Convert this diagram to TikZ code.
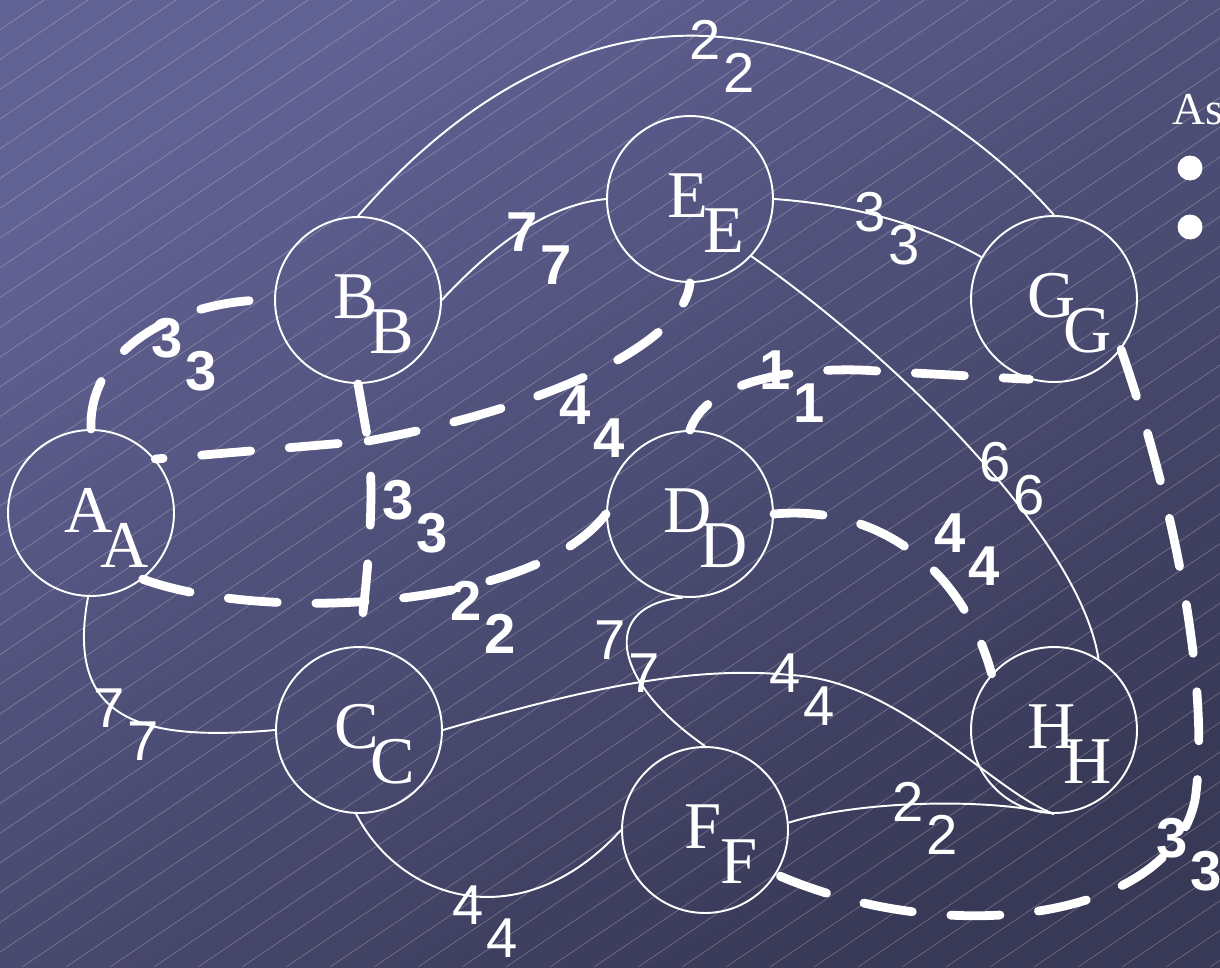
\documentclass[tikz,border=0pt]{standalone}
\usepackage{fontspec}
\setmainfont{Liberation Serif}
\newfontfamily\numfont{Liberation Sans}
\usetikzlibrary{calc}
\definecolor{slatetop}{RGB}{97,98,148}
\definecolor{slatebot}{RGB}{56,57,86}
\tikzset{
  vert/.style={draw=white, line width=1.1pt, circle, minimum size=3.32cm, inner sep=0pt},
  vlab/.style={text=white, inner sep=0pt, font=\fontsize{38}{40}\selectfont},
  wlab/.style={text=white, inner sep=0pt, font=\numfont\fontsize{32}{34}\selectfont},
  wbold/.style={wlab, font=\numfont\bfseries\fontsize{32}{34}\selectfont},
  link/.style={draw=white, line width=1.1pt},
  route/.style={draw=white, line width=5pt, line cap=round, dash pattern=on 28pt off 22pt},
}

\begin{document}
\begin{tikzpicture}[x=0.02cm, y=-0.02cm]
  \useasboundingbox (0,0) rectangle (1220,967);
  \clip (0,0) rectangle (1220,967);
  % background
  \shade[top color=slatetop, bottom color=slatebot, shading angle=30] (0,0) rectangle (1220,967);
  \foreach \k in {0,...,60}
    \draw[white, opacity=0.25, line width=0.4pt] ({\k*44-1430},967) -- ++(1430,-967);

  % vertices
  \foreach \n/\px/\py in {A/91/513, B/358/300, C/359/730, D/690/514,
                          E/690/199, F/705/830, G/1054/299, H/1054/730} {
    \node[vert] (\n) at (\px,\py) {};
    \node[vlab] (\n-a) at (\px-2,\py-3) {\n};
    \node[vlab] (\n-b) at (\px+34,\py+32) {\n};
  }
  \coordinate (J) at (368,441);

  % plain edges
  \draw[link] (B.north) .. controls (450,110) and (570,30) .. (705,36)
              .. controls (840,42) and (970,120) .. (G.north);
  \draw[link] (B.east) .. controls (490,248) and (545,205) .. (E.west);
  \draw[link] (E.east) .. controls (860,205) and (930,228) .. (G.150);
  \draw[link] (E.-43) .. controls (900,360) and (1080,540) .. (H.58);
  \draw[link] (A.-92) .. controls (65,720) and (140,742) .. (C.west);
  \draw[link] (C.east) .. controls (580,690) and (690,665) .. (790,675)
              .. controls (900,680) and (990,790) .. (H.south);
  \draw[link] (F.5) .. controls (860,800) and (990,798) .. (H.south);
  \draw[link] (D.-95) .. controls (600,605) and (610,680) .. (F.north);
  \draw[link] (C.-92) .. controls (400,900) and (520,940) .. (F.west);

  % chosen edges
  \draw[route] (A.north) .. controls (88,345) and (185,298) .. (B.west);
  \draw[route] (B.south) -- (J) -- (A.40);
  \draw[route] (J) .. controls (560,405) and (685,340) .. (E.south);
  \draw[route, dash phase=30pt] (J) .. controls (376,500) and (366,590) .. (C.north);
  \draw[route] (A.-52) .. controls (260,622) and (530,612) .. (D.west);
  \draw[route, dash phase=10pt] (D.north) .. controls (705,385) and (780,368) .. (860,370) -- (G.-107);
  \draw[route] (D.east) .. controls (870,505) and (960,560) .. (H.138);
  \draw[route] (G.-37) .. controls (1180,520) and (1210,700) .. (1195,800)
               .. controls (1170,920) and (950,950) .. (F.-32);

  % weights
  \foreach \w/\v/\px/\py/\s in {bg/2/705/40/wlab, be/7/522/232/wbold, eg/3/870/212/wlab,
      ab/3/167/338/wbold, ae/4/575/405/wbold, bc/3/398/500/wbold, ad/2/466/601/wbold,
      dg/1/775/370/wbold, eh/6/995/462/wlab, dh/4/950/533/wbold, ac/7/109/708/wlab,
      df/7/610/640/wlab, ch/4/785/673/wlab, fh/2/908/802/wlab, cf/4/468/905/wlab,
      gf/3/1172/838/wbold} {
    \node[\s] (\w-a) at (\px,\py) {\v};
    \node[\s] (\w-b) at (\px+34,\py+33) {\v};
  }

  % side text
  \node[anchor=west, text=white, inner sep=0pt, font=\fontsize{26}{28}\selectfont] (head) at (1172,110) {As};
  \node[circle, fill=white, inner sep=0pt, minimum size=0.5cm] (dot1) at (1190,168) {};
  \node[circle, fill=white, inner sep=0pt, minimum size=0.5cm] (dot2) at (1190,227) {};
\end{tikzpicture}
\end{document}
